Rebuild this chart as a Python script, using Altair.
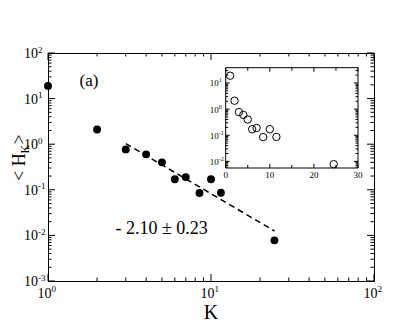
import altair as alt
import pandas as pd

# ---------------- data ----------------
K_vals = [1, 2, 3, 4, 5, 6, 7, 8.5, 10, 11.5, 24.5]
H_vals = [19, 2.1, 0.77, 0.6, 0.4, 0.17, 0.19, 0.085, 0.17, 0.086, 0.0078]
fit_k = [3, 24.5]
fit_h = [1.03, 0.0125]
fit_label = "- 2.10 \u00b1 0.23"
panel_label = "(a)"

main_x_major = [1, 10, 100]
main_x_exp = ["0", "1", "2"]
main_y_major = [0.001, 0.01, 0.1, 1, 10, 100]
main_y_exp = ["-3", "-2", "-1", "0", "1", "2"]
main_x_minor = [2, 3, 4, 5, 6, 7, 8, 9, 20, 30, 40, 50, 60, 70, 80, 90]
main_y_minor = [m * 10.0 ** e for e in range(-3, 2) for m in range(2, 10)]

inset_x_major = [0, 10, 20, 30]
inset_x_minor = [5, 15, 25]
inset_y_major = [0.01, 0.1, 1, 10]
inset_y_exp = ["-2", "-1", "0", "1"]
inset_y_minor = [6e-3, 7e-3, 8e-3, 9e-3] + [m * 10.0 ** e for e in range(-2, 1) for m in range(2, 10)] + [20, 30]

# ---------------- layout ----------------
W, H = 326, 228
SERIF = "'Liberation Serif', 'Times New Roman', Times, 'DejaVu Serif', serif"
IX0, IX1 = 177.7, 310.0      # inset box (pixels in plot coords)
IY0, IY1 = 14.7, 115.0
inset_y_dom = [0.00558, 38.5]
inset_x_dom = [0, 30]

mx = alt.Scale(type="log", domain=[1, 100], nice=False)
my = alt.Scale(type="log", domain=[0.001, 100], nice=False)
ix = alt.Scale(domain=inset_x_dom, range=[IX0, IX1], nice=False, zero=False)
iy = alt.Scale(type="log", domain=inset_y_dom, range=[IY1, IY0], nice=False)


def hticks(vals, scale, ypix, length):
    df = pd.DataFrame({"v": vals})
    return alt.Chart(df).mark_rule(color="black", strokeWidth=1).encode(
        x=alt.X("v:Q", scale=scale, axis=None),
        y=alt.value(ypix), y2=alt.value(ypix + length))


def vticks(vals, scale, xpix, length):
    df = pd.DataFrame({"v": vals})
    return alt.Chart(df).mark_rule(color="black", strokeWidth=1).encode(
        y=alt.Y("v:Q", scale=scale, axis=None),
        x=alt.value(xpix), x2=alt.value(xpix + length))


data = pd.DataFrame({"K": K_vals, "H": H_vals})
fit = pd.DataFrame({"K": fit_k, "H": fit_h})

# ---------------- main panel ----------------
pts = alt.Chart(data).mark_circle(size=62, color="black", opacity=1).encode(
    x=alt.X("K:Q", scale=mx, axis=None), y=alt.Y("H:Q", scale=my, axis=None))
line = alt.Chart(fit).mark_line(color="black", strokeWidth=1.5, strokeDash=[6, 4]).encode(
    x=alt.X("K:Q", scale=mx, axis=None), y=alt.Y("H:Q", scale=my, axis=None))

main_ticks = [
    hticks(main_x_major, mx, H, -7), hticks(main_x_minor, mx, H, -3.5),
    hticks(main_x_major, mx, 0, 7), hticks(main_x_minor, mx, 0, 3.5),
    vticks(main_y_major, my, 0, 7), vticks(main_y_minor, my, 0, 3.5),
    vticks(main_y_major, my, W, -7), vticks(main_y_minor, my, W, -3.5),
]

xl = pd.DataFrame({"v": main_x_major, "e": main_x_exp})
xl_base = alt.Chart(xl).encode(x=alt.X("v:Q", scale=mx, axis=None))
xl10 = xl_base.mark_text(font=SERIF, fontSize=14, align="right", dx=3.5, baseline="alphabetic", color="black").encode(
    y=alt.value(H + 17), text=alt.value("10"))
xlsup = xl_base.mark_text(font=SERIF, fontSize=9, align="left", dx=3.5, baseline="alphabetic", color="black").encode(
    y=alt.value(H + 11), text="e:N")

yl = pd.DataFrame({"v": main_y_major, "e": main_y_exp})
yl_base = alt.Chart(yl).encode(y=alt.Y("v:Q", scale=my, axis=None))
yl10 = yl_base.mark_text(font=SERIF, fontSize=14, align="right", dy=5, baseline="alphabetic", color="black").encode(
    x=alt.value(-10), text=alt.value("10"))
ylsup = yl_base.mark_text(font=SERIF, fontSize=9, align="left", dy=-0.5, baseline="alphabetic", color="black").encode(
    x=alt.value(-10), text="e:N")

txt_df = pd.DataFrame({"a": [0]})
x_title = alt.Chart(txt_df).mark_text(font=SERIF, fontSize=20, align="center", baseline="alphabetic", color="black").encode(
    x=alt.value(163), y=alt.value(H + 38), text=alt.value("K"))
yt1 = alt.Chart(txt_df).mark_text(font=SERIF, fontSize=18, angle=270, align="left", baseline="alphabetic", color="black").encode(
    x=alt.value(-23), y=alt.value(128), text=alt.value("< H"))
yt2 = alt.Chart(txt_df).mark_text(font=SERIF, fontSize=12, angle=270, align="left", baseline="alphabetic", color="black").encode(
    x=alt.value(-19), y=alt.value(100.5), text=alt.value("K"))
yt3 = alt.Chart(txt_df).mark_text(font=SERIF, fontSize=18, angle=270, align="left", baseline="alphabetic", color="black").encode(
    x=alt.value(-23), y=alt.value(91.5), text=alt.value(" >"))
a_lbl = alt.Chart(txt_df).mark_text(font=SERIF, fontSize=17, align="left", baseline="alphabetic", color="black").encode(
    x=alt.value(31.5), y=alt.value(33), text=alt.value(panel_label))
fit_lbl = alt.Chart(txt_df).mark_text(font=SERIF, fontSize=18, align="left", baseline="alphabetic", color="black").encode(
    x=alt.value(67.5), y=alt.value(181), text=alt.value(fit_label))

main = alt.layer(line, pts, *main_ticks, xl10, xlsup, yl10, ylsup, x_title, yt1, yt2, yt3, a_lbl, fit_lbl)

# ---------------- inset ----------------
frame_df = pd.DataFrame({"x0": [inset_x_dom[0]], "x1": [inset_x_dom[1]], "y0": [inset_y_dom[0]], "y1": [inset_y_dom[1]]})
frame = alt.Chart(frame_df).mark_rect(fill="white", stroke="black", strokeWidth=1).encode(
    x=alt.X("x0:Q", scale=ix, axis=None), x2="x1:Q",
    y=alt.Y("y0:Q", scale=iy, axis=None), y2="y1:Q")
ipts = alt.Chart(data).mark_point(shape="circle", filled=False, size=55, color="black", strokeWidth=1, opacity=1).encode(
    x=alt.X("K:Q", scale=ix, axis=None), y=alt.Y("H:Q", scale=iy, axis=None))
inset_ticks = [
    hticks(inset_x_major, ix, IY1, -4), hticks(inset_x_minor, ix, IY1, -3),
    hticks(inset_x_major, ix, IY0, 4), hticks(inset_x_minor, ix, IY0, 3),
    vticks(inset_y_major, iy, IX0, 4), vticks(inset_y_minor, iy, IX0, 2.5),
    vticks(inset_y_major, iy, IX1, -4), vticks(inset_y_minor, iy, IX1, -2.5),
]
ixl = pd.DataFrame({"v": inset_x_major, "t": [str(v) for v in inset_x_major]})
ixl_t = alt.Chart(ixl).mark_text(font=SERIF, fontSize=9, align="center", baseline="alphabetic", color="black").encode(
    x=alt.X("v:Q", scale=ix, axis=None), y=alt.value(IY1 + 10), text="t:N")
iyl = pd.DataFrame({"v": inset_y_major, "e": inset_y_exp})
iyl_base = alt.Chart(iyl).encode(y=alt.Y("v:Q", scale=iy, axis=None))
iyl10 = iyl_base.mark_text(font=SERIF, fontSize=9, align="right", dy=3.5, baseline="alphabetic", color="black").encode(
    x=alt.value(IX0 - 7), text=alt.value("10"))
iylsup = iyl_base.mark_text(font=SERIF, fontSize=6, align="left", dy=-0.5, baseline="alphabetic", color="black").encode(
    x=alt.value(IX0 - 7), text="e:N")

inset = alt.layer(frame, *inset_ticks, ipts, ixl_t, iyl10, iylsup)

chart = alt.layer(main, inset).resolve_scale(x="independent", y="independent").properties(
    width=W, height=H,
    autosize=alt.AutoSizeParams(type="none"),
    padding={"left": 40, "top": 45, "right": 25, "bottom": 45},
).configure_view(stroke="black", strokeWidth=1)

chart.save("out.html", embed_options={"renderer": "svg", "actions": False})
